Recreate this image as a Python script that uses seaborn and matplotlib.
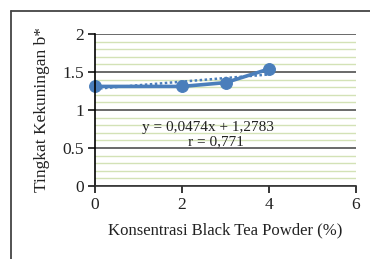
import matplotlib
matplotlib.use("Agg")
import matplotlib.pyplot as plt
import seaborn as sns
import numpy as np
import pandas as pd
from matplotlib.lines import Line2D

konsentrasi = [0, 2, 3, 4]
kekuningan = [1.31, 1.31, 1.36, 1.54]
slope = 0.0474
intercept = 1.2783
eq_text = "y = 0,0474x + 1,2783"
r_text = "r = 0,771"
x_ticks = [0, 2, 4, 6]
y_ticks = [0, 0.5, 1, 1.5, 2]
y_tick_labels = ["0", "0.5", "1", "1.5", "2"]

sns.set_theme(style="white")
plt.rcParams['font.family'] = ['Liberation Serif', 'DejaVu Serif']

fig = plt.figure(figsize=(3.7, 2.59), dpi=100)
ax = fig.add_axes([95/370, 1-186/259, (356-95)/370, (186-34)/259])

blue = "#4a7ebb"
df = pd.DataFrame({"x": konsentrasi, "y": kekuningan})

# minor grid
ax.set_yticks(np.arange(0, 2.01, 0.1), minor=True)
ax.grid(which="minor", axis="y", color="#d3e2b6", linewidth=1.0)
ax.grid(which="major", axis="y", color="#5e5e5e", linewidth=1.3)
ax.set_axisbelow(True)

# trend line
tx = np.array([0, 4])
ax.plot(tx, slope*tx + intercept, linestyle=(0, (1, 1)), color=blue, linewidth=1.8)

sns.lineplot(data=df, x="x", y="y", ax=ax, color=blue, linewidth=2.6,
             marker="o", markersize=8.5, markeredgecolor=blue)
for ln in ax.lines:
    ln.set_clip_on(False)

ax.set_xlim(0, 6)
ax.set_ylim(0, 2)
ax.set_xticks(x_ticks)
ax.set_yticks(y_ticks)
ax.set_yticklabels(y_tick_labels)
ax.tick_params(axis="both", which="major", labelsize=12.5, length=5, width=1.1,
               direction="out", color="black", pad=3, labelcolor="#222222")
ax.tick_params(axis="y", which="minor", length=0)
ax.tick_params(bottom=True, left=True)

for s in ["top", "right"]:
    ax.spines[s].set_visible(False)
ax.spines["left"].set_color("black")
ax.spines["bottom"].set_color("#333333")
ax.spines["left"].set_linewidth(1.2)
ax.spines["bottom"].set_linewidth(1.2)

ax.set_xlabel("Konsentrasi Black Tea Powder (%)", fontsize=12, color="#222222", labelpad=7)
ax.set_ylabel("Tingkat Kekuningan b*", fontsize=12.5, color="#222222", labelpad=9)

ax.text((208-95)/43.5, (186-127)/76, eq_text, fontsize=11, color="#222222",
        ha="center", va="center")
ax.text((216-95)/43.5, (186-142)/76, r_text, fontsize=11, color="#222222",
        ha="center", va="center")

# outer frame (left & top)
fig.add_artist(Line2D([11/370, 11/370], [0, 1-11/259], color="#444444", linewidth=1.3))
fig.add_artist(Line2D([11/370, 1], [1-11/259, 1-11/259], color="#444444", linewidth=1.3))

fig.savefig("out.png", dpi=100)
